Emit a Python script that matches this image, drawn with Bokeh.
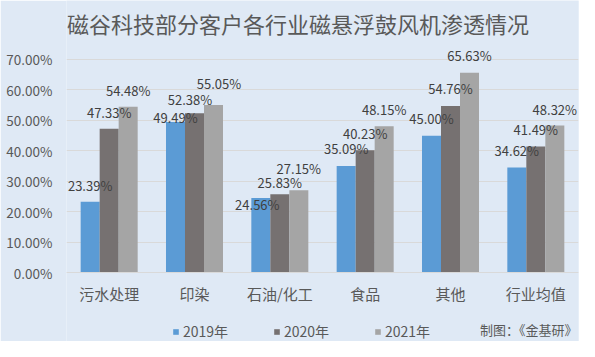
from bokeh.plotting import figure
from bokeh.models import (ColumnDataSource, FactorRange, Range1d, FixedTicker,
                          LabelSet, Label, Legend, LegendItem)
from bokeh.core.properties import value
from bokeh.transform import dodge
from bokeh.embed import file_html
from bokeh.resources import INLINE

# ---- data ----
categories = ["污水处理", "印染", "石油/化工", "食品", "其他", "行业均值"]
years = ["2019年", "2020年", "2021年"]
v2019 = [23.39, 49.49, 24.56, 35.09, 45.00, 34.62]
v2020 = [47.33, 52.38, 25.83, 40.23, 54.76, 41.49]
v2021 = [54.48, 55.05, 27.15, 48.15, 65.63, 48.32]
y_ticks = [0, 10, 20, 30, 40, 50, 60, 70]
y_tick_labels = ["0.00%", "10.00%", "20.00%", "30.00%", "40.00%", "50.00%", "60.00%", "70.00%"]
title_text = "磁谷科技部分客户各行业磁悬浮鼓风机渗透情况"
credit_text = "制图：《金基研》"

# ---- styling (label nudges in px) ----
colors = ["#5b9bd5", "#767171", "#a5a5a5"]
label_dy = [[16, 5, -6, 17, 17, 17],
            [16, 14, 12, 17, 17, 17],
            [16, 22, 22, 17, 17, 16]]
label_dx = [[0, 0, -3.5, 0, 0, 0],
            [0, -4.5, 0, 0, 0, 0],
            [0, 5.5, 0, 0, 0, 0]]
BG = "#dfe9f5"
FONT = "Noto Sans CJK SC"

# frame spans the full canvas height; x axis is pinned at y=0
p = figure(width=579, height=341, output_backend="svg", toolbar_location=None,
           x_range=FactorRange(*categories, range_padding=0),
           y_range=Range1d(-22.46, 89.34))
p.min_border_left = 66
p.min_border_right = 1
p.min_border_top = 0
p.min_border_bottom = 0
p.background_fill_color = BG
p.border_fill_color = BG
p.outline_line_color = None

series = [v2019, v2020, v2021]
offsets = [-0.2227, 0.0, 0.2227]
renderers = []
for i, vals in enumerate(series):
    src = ColumnDataSource(dict(
        cat=categories, val=vals,
        txt=["%.2f%%" % v for v in vals],
        dx=label_dx[i], dy=label_dy[i]))
    r = p.vbar(x=dodge("cat", offsets[i], range=p.x_range), top="val", width=0.2227,
               source=src, fill_color=colors[i], line_color=None)
    renderers.append(r)
    p.add_layout(LabelSet(x=dodge("cat", offsets[i], range=p.x_range), y="val", text="txt",
                          x_offset="dx", y_offset="dy", source=src,
                          text_align="center", text_baseline="middle",
                          text_font_size="13px", text_color="#404040", text_font=value(FONT)))

# axes
p.yaxis.ticker = FixedTicker(ticks=y_ticks)
p.yaxis.major_label_overrides = {t: l for t, l in zip(y_ticks, y_tick_labels)}
p.yaxis.axis_line_color = None
p.yaxis.major_tick_line_color = None
p.yaxis.minor_tick_line_color = None
p.yaxis.major_tick_out = 0
p.yaxis.major_label_standoff = 14
p.yaxis.major_label_text_font_size = "13.5px"
p.yaxis.major_label_text_color = "#595959"
p.yaxis.major_label_text_font = FONT

p.xaxis.fixed_location = 0
p.xaxis.axis_line_color = "#d9d9d9"
p.xaxis.major_tick_line_color = None
p.xaxis.major_tick_out = 0
p.xaxis.major_label_standoff = 10
p.xaxis.major_label_text_font_size = "15px"
p.xaxis.major_label_text_color = "#595959"
p.xaxis.major_label_text_font = FONT

p.xgrid.grid_line_color = None
p.ygrid.grid_line_color = "#d9d9d9"
p.ygrid.grid_line_width = 1

# title (inside the frame, centred on the figure)
p.add_layout(Label(x=2.713, y=81.8, text=title_text, text_align="center", text_baseline="middle",
                   text_font_size="22px", text_color="#595959", text_font=FONT))

legend = Legend(items=[LegendItem(label=y, renderers=[r]) for y, r in zip(years, renderers)],
                orientation="horizontal", location=(106, 0),
                glyph_width=7, glyph_height=7, label_standoff=4, label_width=80,
                label_height=14, spacing=10, padding=0, margin=0,
                border_line_color=None, background_fill_alpha=0,
                label_text_font_size="14px", label_text_color="#595959", label_text_font=FONT)
p.add_layout(legend)

p.add_layout(Label(x=5.988, y=-18.5, text=credit_text, text_align="right", text_baseline="middle",
                   text_font_size="13px", text_color="#595959", text_font=FONT))

open("out.html", "w").write(file_html(p, INLINE))
